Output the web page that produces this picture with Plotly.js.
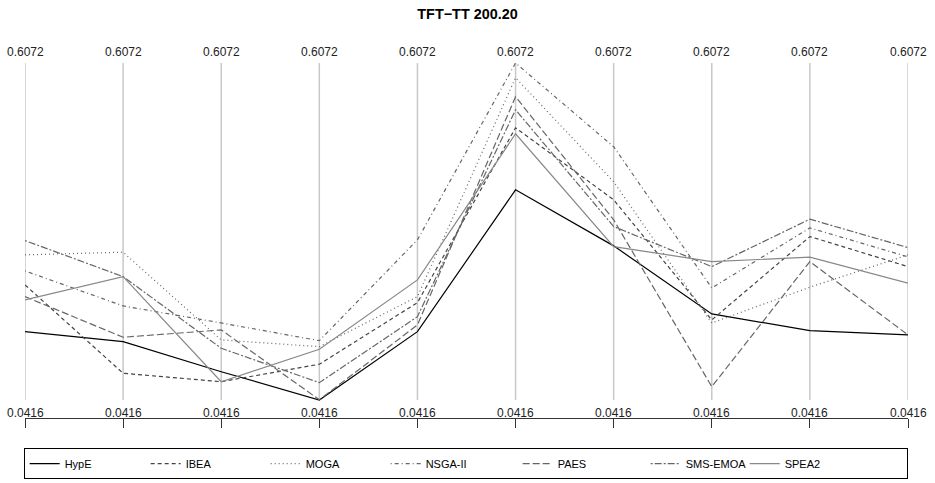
<!DOCTYPE html>
<html>
<head>
<meta charset="utf-8">
<script src="https://cdn.plot.ly/plotly-3.0.1.min.js"></script>
<style>html,body{margin:0;padding:0;background:#fff;}#chart{width:935px;height:483px;}</style>
</head>
<body>
<div id="chart"></div>
<script>
// Axes (10 parallel coordinates) and their range labels
const axesIdx = [0, 1, 2, 3, 4, 5, 6, 7, 8, 9];
const topLabels = ["0.6072","0.6072","0.6072","0.6072","0.6072","0.6072","0.6072","0.6072","0.6072","0.6072"];
const bottomLabels = ["0.0416","0.0416","0.0416","0.0416","0.0416","0.0416","0.0416","0.0416","0.0416","0.0416"];
const vMin = 0.0416, vMax = 0.6072;

// Series names
const seriesNames = ["HypE", "IBEA", "MOGA", "NSGA-II", "PAES", "SMS-EMOA", "SPEA2"];

// Series values
const hype    = [0.1563, 0.1395, 0.0891, 0.0416, 0.1563, 0.3944, 0.3003, 0.1861, 0.1580, 0.1508];
const ibea    = [0.2348, 0.0865, 0.0723, 0.1016, 0.2050, 0.4985, 0.3776, 0.1760, 0.3159, 0.2655];
const moga    = [0.2852, 0.2897, 0.1424, 0.1311, 0.2151, 0.5825, 0.4078, 0.1709, 0.2309, 0.2852];
const nsga2   = [0.2583, 0.1995, 0.1709, 0.1412, 0.3104, 0.6072, 0.4666, 0.2297, 0.3305, 0.2818];
const paes    = [0.2151, 0.1469, 0.1592, 0.0420, 0.1676, 0.5506, 0.3440, 0.0639, 0.2739, 0.1508];
const smsemoa = [0.3092, 0.2487, 0.1284, 0.0707, 0.1815, 0.5287, 0.3327, 0.2655, 0.3451, 0.2974];
const spea2   = [0.2096, 0.2487, 0.0723, 0.1268, 0.2432, 0.4884, 0.2991, 0.2739, 0.2813, 0.2376];

const seriesValues = [hype, ibea, moga, nsga2, paes, smsemoa, spea2];
const styles = [
  {color: "#000000", dash: "solid"},
  {color: "#444444", dash: "4px,3px"},
  {color: "#666666", dash: "1px,3px"},
  {color: "#666666", dash: "1px,3px,4px,3px"},
  {color: "#666666", dash: "7px,3px"},
  {color: "#666666", dash: "2px,2px,7px,2px"},
  {color: "#888888", dash: "solid"}
];
// legend entry widths (text slot per entry)
const legendWidths = [76, 75, 75, 87, 83, 54, 117];

const traces = seriesNames.map((n, i) => ({
  type: "scatter", mode: "lines", name: n,
  x: axesIdx, y: seriesValues[i],
  line: {color: styles[i].color, dash: styles[i].dash, width: 1.2},
  legendwidth: legendWidths[i],
  hoverinfo: "skip"
}));

// bottom of plot area sits below 0.0416 to leave room for labels
const pxPerUnit = 337 / (vMax - vMin);
const yLow = vMin - 18 / pxPerUnit;

const shapes = axesIdx.map(i => ({
  type: "line", xref: "x", yref: "y", x0: i, x1: i, y0: vMin, y1: vMax,
  line: {color: "#c8c8c8", width: 1.5}, layer: "below"
}));

const annotations = [];
axesIdx.forEach(i => {
  annotations.push({x: i, y: vMax, xref: "x", yref: "y", text: topLabels[i], showarrow: false,
    yanchor: "bottom", xanchor: "center", yshift: 2, font: {size: 12, color: "#222"}});
  annotations.push({x: i, y: vMin, xref: "x", yref: "y", text: bottomLabels[i], showarrow: false,
    yanchor: "top", xanchor: "center", yshift: -4, font: {size: 12, color: "#222"}});
});

const layout = {
  width: 935, height: 483,
  margin: {l: 25, r: 27, t: 63, b: 65, autoexpand: false},
  paper_bgcolor: "#fff", plot_bgcolor: "#fff",
  font: {family: "Liberation Sans, Arial, sans-serif", size: 12, color: "#000"},
  title: {text: "<b>TFT−TT 200.20</b>", x: 0.5, xanchor: "center", y: 0.972, yanchor: "middle",
          font: {size: 14.4, color: "#000"}},
  xaxis: {range: [0, 9], tickvals: axesIdx, showticklabels: false, ticks: "outside", ticklen: 9,
          tickcolor: "#333", tickwidth: 1, showline: true, linecolor: "#333", linewidth: 1,
          showgrid: false, zeroline: false, fixedrange: true},
  yaxis: {range: [yLow, vMax], showgrid: false, zeroline: false, showticklabels: false,
          showline: false, ticks: "", fixedrange: true},
  shapes: shapes,
  annotations: annotations,
  showlegend: true,
  legend: {orientation: "h", x: -0.0015, xanchor: "left", y: -0.085, yanchor: "top",
           bordercolor: "#000", borderwidth: 1, font: {size: 11},
           itemwidth: 30, traceorder: "normal"}
};

Plotly.newPlot("chart", traces, layout, {staticPlot: true, displayModeBar: false});
</script>
</body>
</html>
